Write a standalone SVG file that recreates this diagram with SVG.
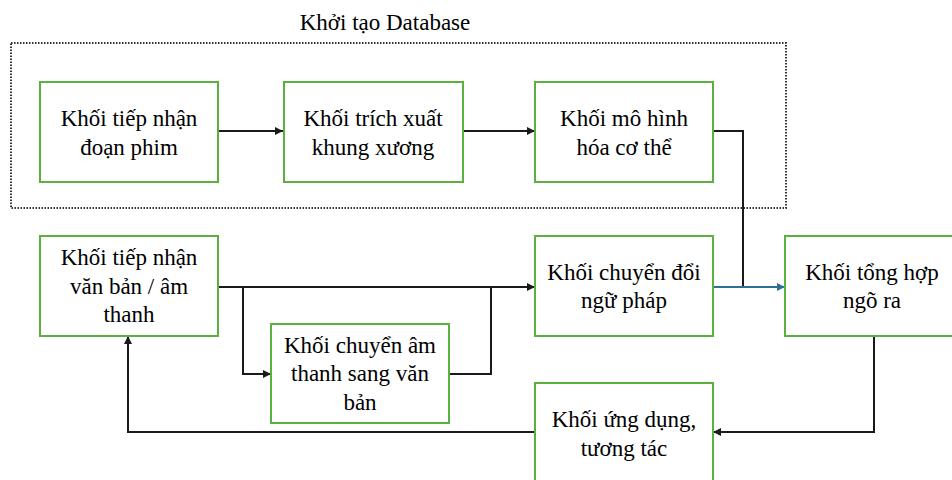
<svg xmlns="http://www.w3.org/2000/svg" width="952" height="480" viewBox="0 0 952 480">
<defs>
<marker id="ah" viewBox="0 0 10 10" refX="10" refY="5" markerWidth="8" markerHeight="8" markerUnits="userSpaceOnUse" orient="auto"><path d="M0,0L10,5L0,10z" fill="#1a1a1a"/></marker>
<marker id="ahb" viewBox="0 0 10 10" refX="10" refY="5" markerWidth="8" markerHeight="8" markerUnits="userSpaceOnUse" orient="auto"><path d="M0,0L10,5L0,10z" fill="#2F6F96"/></marker>
</defs>
<rect width="952" height="480" fill="#fff"/>
<g id="database">
<rect x="11" y="43" width="775" height="165" fill="none" stroke="#333" stroke-width="2" stroke-dasharray="1.5 1.5"/>
<text x="385" y="30" font-family="Times New Roman, Liberation Serif, serif" font-size="23" text-anchor="middle">Khởi tạo Database</text>
</g>
<g id="connectors" fill="none" stroke="#1a1a1a" stroke-width="2">
<path d="M218,131H283" marker-end="url(#ah)"/>
<path d="M463,131H535" marker-end="url(#ah)"/>
<path d="M713,131H743V287"/>
<path d="M218,287H535" marker-end="url(#ah)"/>
<path d="M243,287V374H271" marker-end="url(#ah)"/>
<path d="M449,374H491V287"/>
<path d="M713,287H785" stroke="#2F6F96" marker-end="url(#ahb)"/>
<path d="M874,336V432H713" marker-end="url(#ah)"/>
<path d="M535,432H128V336" marker-end="url(#ah)"/>
</g>
<g id="n1"><rect x="40" y="82" width="178" height="100" fill="#fff" stroke="#5CB03E" stroke-width="2"/><text x="129" y="126" font-family="Times New Roman, Liberation Serif, serif" font-size="23" text-anchor="middle">Khối tiếp nhận</text><text x="129" y="155" font-family="Times New Roman, Liberation Serif, serif" font-size="23" text-anchor="middle">đoạn phim</text></g>
<g id="n2"><rect x="284" y="82" width="179" height="100" fill="#fff" stroke="#5CB03E" stroke-width="2"/><text x="373" y="126" font-family="Times New Roman, Liberation Serif, serif" font-size="23" text-anchor="middle">Khối trích xuất</text><text x="373" y="155" font-family="Times New Roman, Liberation Serif, serif" font-size="23" text-anchor="middle">khung xương</text></g>
<g id="n3"><rect x="535" y="82" width="178" height="100" fill="#fff" stroke="#5CB03E" stroke-width="2"/><text x="624" y="126" font-family="Times New Roman, Liberation Serif, serif" font-size="23" text-anchor="middle">Khối mô hình</text><text x="624" y="155" font-family="Times New Roman, Liberation Serif, serif" font-size="23" text-anchor="middle">hóa cơ thể</text></g>
<g id="n4"><rect x="40" y="236" width="178" height="100" fill="#fff" stroke="#5CB03E" stroke-width="2"/><text x="129" y="265" font-family="Times New Roman, Liberation Serif, serif" font-size="23" text-anchor="middle">Khối tiếp nhận</text><text x="129" y="294" font-family="Times New Roman, Liberation Serif, serif" font-size="23" text-anchor="middle">văn bản / âm</text><text x="129" y="322" font-family="Times New Roman, Liberation Serif, serif" font-size="23" text-anchor="middle">thanh</text></g>
<g id="n5"><rect x="271" y="324" width="178" height="99" fill="#fff" stroke="#5CB03E" stroke-width="2"/><text x="360" y="353" font-family="Times New Roman, Liberation Serif, serif" font-size="23" text-anchor="middle">Khối chuyển âm</text><text x="360" y="381" font-family="Times New Roman, Liberation Serif, serif" font-size="23" text-anchor="middle">thanh sang văn</text><text x="360" y="410" font-family="Times New Roman, Liberation Serif, serif" font-size="23" text-anchor="middle">bản</text></g>
<g id="n6"><rect x="535" y="236" width="178" height="100" fill="#fff" stroke="#5CB03E" stroke-width="2"/><text x="624" y="280" font-family="Times New Roman, Liberation Serif, serif" font-size="23" text-anchor="middle">Khối chuyển đổi</text><text x="624" y="308" font-family="Times New Roman, Liberation Serif, serif" font-size="23" text-anchor="middle">ngữ pháp</text></g>
<g id="n7"><rect x="785" y="236" width="178" height="100" fill="#fff" stroke="#5CB03E" stroke-width="2"/><text x="872" y="280" font-family="Times New Roman, Liberation Serif, serif" font-size="23" text-anchor="middle">Khối tổng hợp</text><text x="872" y="308" font-family="Times New Roman, Liberation Serif, serif" font-size="23" text-anchor="middle">ngõ ra</text></g>
<g id="n8"><rect x="535" y="383" width="178" height="110" fill="#fff" stroke="#5CB03E" stroke-width="2"/><text x="624" y="427" font-family="Times New Roman, Liberation Serif, serif" font-size="23" text-anchor="middle">Khối ứng dụng,</text><text x="624" y="456" font-family="Times New Roman, Liberation Serif, serif" font-size="23" text-anchor="middle">tương tác</text></g>
</svg>
